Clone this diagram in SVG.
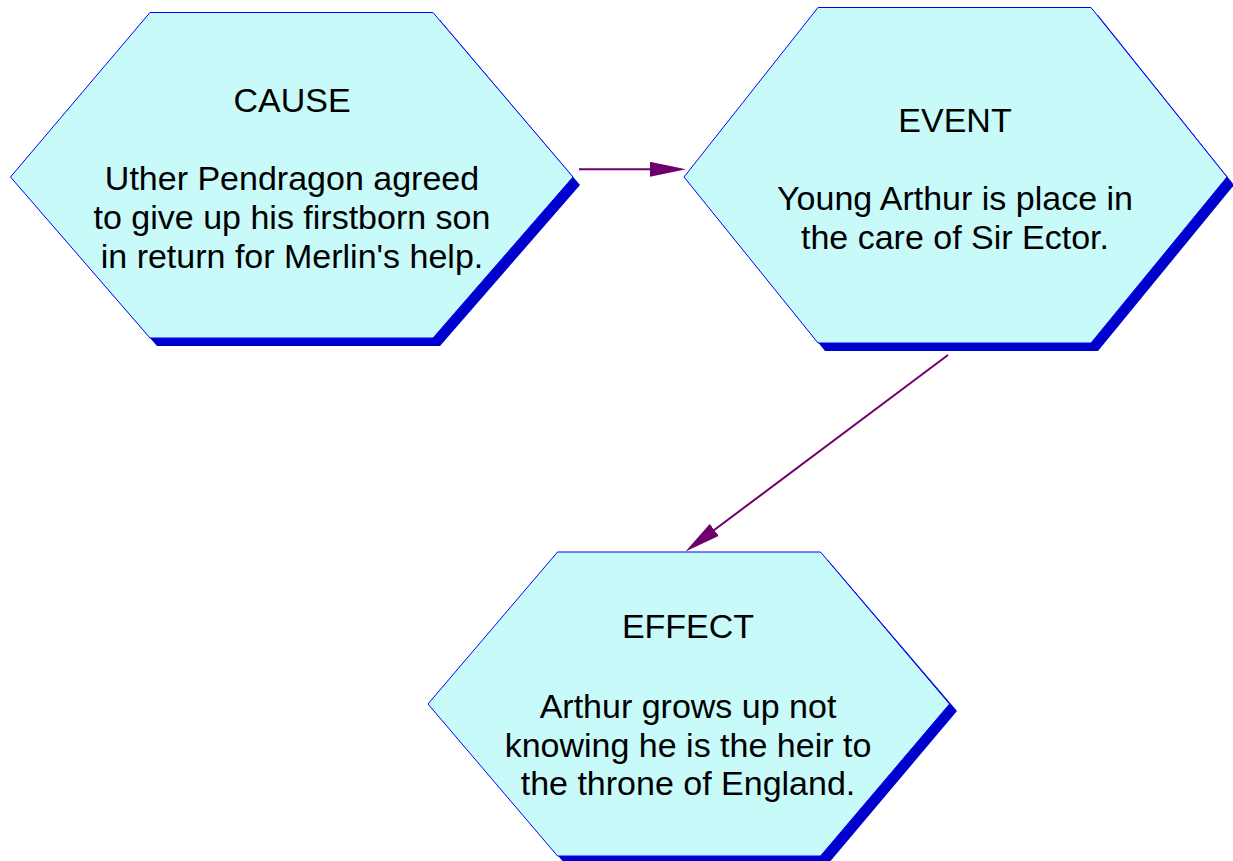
<svg xmlns="http://www.w3.org/2000/svg" width="1233" height="861" viewBox="0 0 1233 861">
<defs>
<style>
.shadow{fill:#0000CC;stroke:none}
.hex{fill:#C8FAFA;stroke:#0000FF;stroke-width:1}
.txt{font-family:"Liberation Sans",Arial,sans-serif;font-size:34px;fill:#000;text-anchor:middle}
.conn{stroke:#6E006E;stroke-width:2;fill:none}
</style>
<marker id="arr" viewBox="0 0 36 15" refX="6" refY="7.5" markerWidth="36" markerHeight="15" markerUnits="userSpaceOnUse" orient="auto">
<path d="M0,0 L36,7.5 L0,15 Z" fill="#6E006E"/>
</marker>
</defs>
<rect width="1233" height="861" fill="#FFFFFF"/>
<g id="cause">
<polygon class="shadow" points="157,20 440,20 580,185 440,346 157,346 18,185"/>
<polygon class="hex" points="150,12.5 433,12.5 573,177 433,338 150,338 10.5,177"/>
<text class="txt" x="292" y="112">CAUSE</text>
<text class="txt" x="292" y="190">Uther Pendragon agreed</text>
<text class="txt" x="292" y="229">to give up his firstborn son</text>
<text class="txt" x="292" y="268">in return for Merlin's help.</text>
</g>
<g id="event">
<polygon class="shadow" points="825,15 1098,15 1234,185 1098,351 825,351 691,185"/>
<polygon class="hex" points="818,7.5 1091,7.5 1227,177 1091,343 818,343 684,177"/>
<text class="txt" x="955" y="132">EVENT</text>
<text class="txt" x="955" y="210">Young Arthur is place in</text>
<text class="txt" x="955" y="249">the care of Sir Ector.</text>
</g>
<g id="effect">
<polygon class="shadow" points="565,560 828,560 957,711 828,864 565,864 436,711"/>
<polygon class="hex" points="557.5,552 820.5,552 949.5,704 820.5,856 557.5,856 428,704"/>
<text class="txt" x="688" y="638">EFFECT</text>
<text class="txt" x="688" y="718">Arthur grows up not</text>
<text class="txt" x="688" y="757">knowing he is the heir to</text>
<text class="txt" x="688" y="795">the throne of England.</text>
</g>
<g id="connectors">
<line class="conn" x1="579" y1="169.3" x2="656" y2="169.3" marker-end="url(#arr)"/>
<line class="conn" x1="948" y1="355" x2="709.5" y2="533.5" marker-end="url(#arr)"/>
</g>
</svg>
